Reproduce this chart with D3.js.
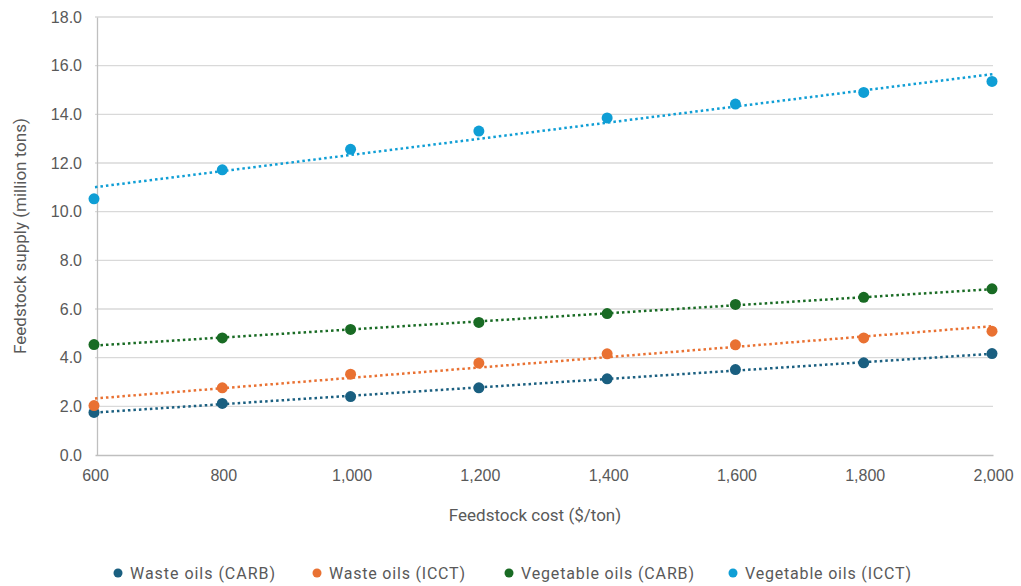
<!DOCTYPE html>
<html>
<head>
<meta charset="utf-8">
<script src="https://cdn.jsdelivr.net/npm/d3@7"></script>
<style>
  body { margin: 0; background: #fff; }
  svg { display: block; font-family: Roboto, "Open Sans", "Liberation Sans", sans-serif; }
</style>
</head>
<body>
<div id="chart"></div>
<script>
// feedstock cost ($/ton)
var costs = [600, 800, 1000, 1200, 1400, 1600, 1800, 2000];

// feedstock supply (million tons) per series
var wasteCarb = [1.75, 2.12, 2.40, 2.76, 3.13, 3.51, 3.79, 4.17];
var wasteIcct = [2.03, 2.76, 3.32, 3.78, 4.16, 4.53, 4.81, 5.09];
var vegCarb   = [4.54, 4.81, 5.16, 5.45, 5.81, 6.19, 6.48, 6.83];
var vegIcct   = [10.53, 11.72, 12.56, 13.31, 13.85, 14.42, 14.90, 15.35];

var seriesNames  = ["Waste oils (CARB)", "Waste oils (ICCT)", "Vegetable oils (CARB)", "Vegetable oils (ICCT)"];
var seriesColors = ["#1a5f80", "#e97132", "#196b24", "#0f9ed5"];
var seriesValues = [wasteCarb, wasteIcct, vegCarb, vegIcct];

var yTicks = [0, 2, 4, 6, 8, 10, 12, 14, 16, 18];
var xTicks = [600, 800, 1000, 1200, 1400, 1600, 1800, 2000];

var width = 1021, height = 586;
var margin = {top: 17, right: 28, bottom: 131, left: 95};

var svg = d3.select("#chart").append("svg")
  .attr("width", width)
  .attr("height", height);

var x = d3.scaleLinear().domain([600, 2000]).range([margin.left, width - margin.right]);
var y = d3.scaleLinear().domain([0, 18]).range([height - margin.bottom, margin.top]);

// horizontal gridlines
svg.append("g")
  .selectAll("line")
  .data(yTicks.slice(1))
  .enter()
  .append("line")
  .attr("x1", margin.left)
  .attr("x2", width - margin.right)
  .attr("y1", function (d) { return y(d); })
  .attr("y2", function (d) { return y(d); })
  .attr("stroke", "#d9d9d9")
  .attr("stroke-width", 1.3);

// axes drawn with d3 axis helpers, then restyled
var yAxis = svg.append("g")
  .attr("transform", "translate(" + (margin.left + 2) + ",0)")
  .call(d3.axisLeft(y).tickValues(yTicks).tickFormat(d3.format(".1f")).tickSize(0).tickPadding(15));
yAxis.select(".domain").attr("stroke", "#bfbfbf").attr("stroke-width", 1.3);
yAxis.selectAll("text").attr("fill", "#595959").style("font-size", "16px");

var xAxis = svg.append("g")
  .attr("transform", "translate(0," + y(0) + ")")
  .call(d3.axisBottom(x).tickValues(xTicks).tickFormat(d3.format(",")).tickSize(0).tickPadding(15));
xAxis.select(".domain").attr("stroke", "#bfbfbf").attr("stroke-width", 1.3);
xAxis.selectAll("text").attr("fill", "#595959").style("font-size", "16px");

// axis titles
svg.append("text")
  .attr("x", 535)
  .attr("y", 521)
  .attr("text-anchor", "middle")
  .attr("fill", "#595959")
  .style("font-size", "17px")
  .text("Feedstock cost ($/ton)");

svg.append("text")
  .attr("transform", "translate(26," + y(9) + ") rotate(-90)")
  .attr("text-anchor", "middle")
  .attr("fill", "#595959")
  .style("font-size", "17px")
  .text("Feedstock supply (million tons)");

// least squares trendline for a series
function trend(values) {
  var mx = d3.mean(costs), my = d3.mean(values);
  var num = 0, den = 0;
  costs.forEach(function (c, i) {
    num += (c - mx) * (values[i] - my);
    den += (c - mx) * (c - mx);
  });
  var slope = num / den;
  return [600, 2000].map(function (c) { return [c, my + slope * (c - mx)]; });
}

var line = d3.line()
  .x(function (d) { return x(d[0]); })
  .y(function (d) { return y(d[1]); });

seriesValues.forEach(function (values, s) {
  var g = svg.append("g");

  g.selectAll("circle")
    .data(values)
    .enter()
    .append("circle")
    .attr("cx", function (d, i) { return x(costs[i]) - 1; })
    .attr("cy", function (d) { return y(d); })
    .attr("r", 5.5)
    .attr("fill", seriesColors[s]);

  g.append("path")
    .datum(trend(values))
    .attr("d", line)
    .attr("fill", "none")
    .attr("stroke", seriesColors[s])
    .attr("stroke-width", 2.5)
    .attr("stroke-dasharray", "2.5,3");
});

// legend along the bottom
var legendX = [118, 317, 509, 733];
var legendW = [145, 136, 173, 166];
var legend = svg.append("g")
  .selectAll("g")
  .data(seriesNames)
  .enter()
  .append("g")
  .attr("transform", function (d, i) { return "translate(" + legendX[i] + ",573)"; });

legend.append("circle")
  .attr("r", 4.5)
  .attr("fill", function (d, i) { return seriesColors[i]; });

legend.append("text")
  .attr("x", 12)
  .attr("dy", "0.35em")
  .attr("fill", "#595959")
  .style("font-size", "16px")
  .attr("textLength", function (d, i) { return legendW[i]; })
  .attr("lengthAdjust", "spacing")
  .text(function (d) { return d; });
</script>
</body>
</html>
